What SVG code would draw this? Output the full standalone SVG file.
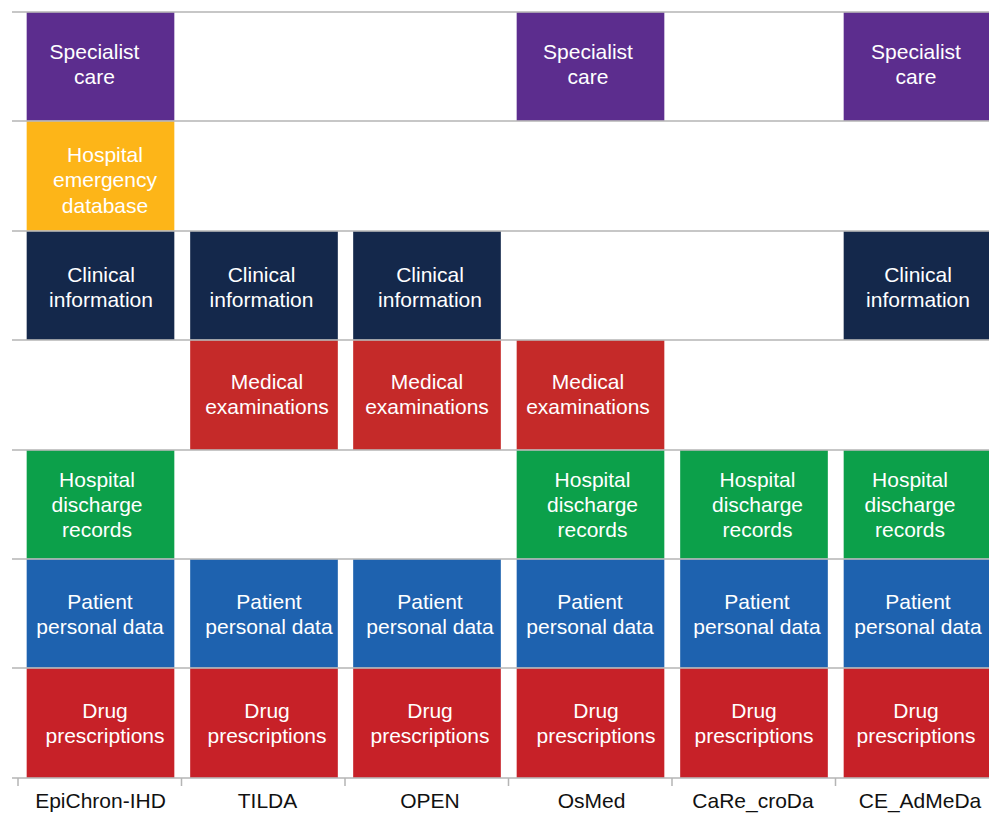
<svg xmlns="http://www.w3.org/2000/svg" width="989" height="815" viewBox="0 0 989 815">
<style>
.t{font-family:"Liberation Sans",Arial,sans-serif;font-size:21px;fill:#ffffff;text-anchor:middle}
.lab{font-family:"Liberation Sans",Arial,sans-serif;font-size:21px;fill:#111111;text-anchor:middle}
.b{stroke-width:1;stroke-opacity:0.35;stroke:#ffffff}
.sp{fill:#5C2D8E}
.he{fill:#FDB518}
.ci{fill:#14284B}
.me{fill:#C52A29}
.hd{fill:#0CA04A}
.pp{fill:#1E62AF}
.dp{fill:#C72128}
.g{stroke:#B5B5B5;stroke-width:1.5;fill:none}
</style>
<rect width="989" height="815" fill="#ffffff"/>
<g id="row-specialist">
<g id="sp1"><rect class="b sp" x="26.5" y="12" width="148" height="109"/><text class="t" x="94.5" y="59">Specialist</text><text class="t" x="94.5" y="84">care</text></g>
<g id="sp4"><rect class="b sp" x="516.5" y="12" width="148" height="109"/><text class="t" x="588" y="59">Specialist</text><text class="t" x="588" y="84">care</text></g>
<g id="sp6"><rect class="b sp" x="843.5" y="12" width="148" height="109"/><text class="t" x="916" y="59">Specialist</text><text class="t" x="916" y="84">care</text></g>
</g>
<g id="row-emergency">
<g id="he1"><rect class="b he" x="26.5" y="121" width="148" height="110"/><text class="t" x="105" y="161.5">Hospital</text><text class="t" x="105" y="187">emergency</text><text class="t" x="105" y="212.5">database</text></g>
</g>
<g id="row-clinical">
<g id="ci1"><rect class="b ci" x="26.5" y="231" width="148" height="109"/><text class="t" x="101" y="282">Clinical</text><text class="t" x="101" y="307">information</text></g>
<g id="ci2"><rect class="b ci" x="190" y="231" width="148" height="109"/><text class="t" x="261.5" y="282">Clinical</text><text class="t" x="261.5" y="307">information</text></g>
<g id="ci3"><rect class="b ci" x="353" y="231" width="148" height="109"/><text class="t" x="430" y="282">Clinical</text><text class="t" x="430" y="307">information</text></g>
<g id="ci6"><rect class="b ci" x="843.5" y="231" width="148" height="109"/><text class="t" x="918" y="282">Clinical</text><text class="t" x="918" y="307">information</text></g>
</g>
<g id="row-medical">
<g id="me2"><rect class="b me" x="190" y="340" width="148" height="110"/><text class="t" x="267" y="388.5">Medical</text><text class="t" x="267" y="413.5">examinations</text></g>
<g id="me3"><rect class="b me" x="353" y="340" width="148" height="110"/><text class="t" x="427" y="388.5">Medical</text><text class="t" x="427" y="413.5">examinations</text></g>
<g id="me4"><rect class="b me" x="516.5" y="340" width="148" height="110"/><text class="t" x="588" y="388.5">Medical</text><text class="t" x="588" y="413.5">examinations</text></g>
</g>
<g id="row-discharge">
<g id="hd1"><rect class="b hd" x="26.5" y="450" width="148" height="109"/><text class="t" x="97" y="487">Hospital</text><text class="t" x="97" y="512">discharge</text><text class="t" x="97" y="537">records</text></g>
<g id="hd4"><rect class="b hd" x="516.5" y="450" width="148" height="109"/><text class="t" x="592.5" y="487">Hospital</text><text class="t" x="592.5" y="512">discharge</text><text class="t" x="592.5" y="537">records</text></g>
<g id="hd5"><rect class="b hd" x="680" y="450" width="148" height="109"/><text class="t" x="757.5" y="487">Hospital</text><text class="t" x="757.5" y="512">discharge</text><text class="t" x="757.5" y="537">records</text></g>
<g id="hd6"><rect class="b hd" x="843.5" y="450" width="148" height="109"/><text class="t" x="910" y="487">Hospital</text><text class="t" x="910" y="512">discharge</text><text class="t" x="910" y="537">records</text></g>
</g>
<g id="row-patient">
<g id="pp1"><rect class="b pp" x="26.5" y="559" width="148" height="109"/><text class="t" x="100" y="609">Patient</text><text class="t" x="100" y="634">personal data</text></g>
<g id="pp2"><rect class="b pp" x="190" y="559" width="148" height="109"/><text class="t" x="269" y="609">Patient</text><text class="t" x="269" y="634">personal data</text></g>
<g id="pp3"><rect class="b pp" x="353" y="559" width="148" height="109"/><text class="t" x="430" y="609">Patient</text><text class="t" x="430" y="634">personal data</text></g>
<g id="pp4"><rect class="b pp" x="516.5" y="559" width="148" height="109"/><text class="t" x="590" y="609">Patient</text><text class="t" x="590" y="634">personal data</text></g>
<g id="pp5"><rect class="b pp" x="680" y="559" width="148" height="109"/><text class="t" x="757" y="609">Patient</text><text class="t" x="757" y="634">personal data</text></g>
<g id="pp6"><rect class="b pp" x="843.5" y="559" width="148" height="109"/><text class="t" x="918" y="609">Patient</text><text class="t" x="918" y="634">personal data</text></g>
</g>
<g id="row-drug">
<g id="dp1"><rect class="b dp" x="26.5" y="668" width="148" height="110"/><text class="t" x="105" y="718">Drug</text><text class="t" x="105" y="743">prescriptions</text></g>
<g id="dp2"><rect class="b dp" x="190" y="668" width="148" height="110"/><text class="t" x="267" y="718">Drug</text><text class="t" x="267" y="743">prescriptions</text></g>
<g id="dp3"><rect class="b dp" x="353" y="668" width="148" height="110"/><text class="t" x="430" y="718">Drug</text><text class="t" x="430" y="743">prescriptions</text></g>
<g id="dp4"><rect class="b dp" x="516.5" y="668" width="148" height="110"/><text class="t" x="596" y="718">Drug</text><text class="t" x="596" y="743">prescriptions</text></g>
<g id="dp5"><rect class="b dp" x="680" y="668" width="148" height="110"/><text class="t" x="754" y="718">Drug</text><text class="t" x="754" y="743">prescriptions</text></g>
<g id="dp6"><rect class="b dp" x="843.5" y="668" width="148" height="110"/><text class="t" x="916" y="718">Drug</text><text class="t" x="916" y="743">prescriptions</text></g>
</g>
<g id="gridlines">
<path class="g" d="M12 12H989M12 121H989M12 231H989M12 340H989M12 450H989M12 559H989M12 668H989M12 778H989"/>
<path class="g" d="M18 778V786M181.5 778V786M345 778V786M508.5 778V786M672 778V786M835.5 778V786"/>
</g>
<g id="axis-labels">
<text class="lab" x="100.5" y="808">EpiChron-IHD</text>
<text class="lab" x="267.5" y="808">TILDA</text>
<text class="lab" x="430" y="808">OPEN</text>
<text class="lab" x="591.5" y="808">OsMed</text>
<text class="lab" x="753" y="808">CaRe_croDa</text>
<text class="lab" x="920" y="808">CE_AdMeDa</text>
</g>
</svg>
